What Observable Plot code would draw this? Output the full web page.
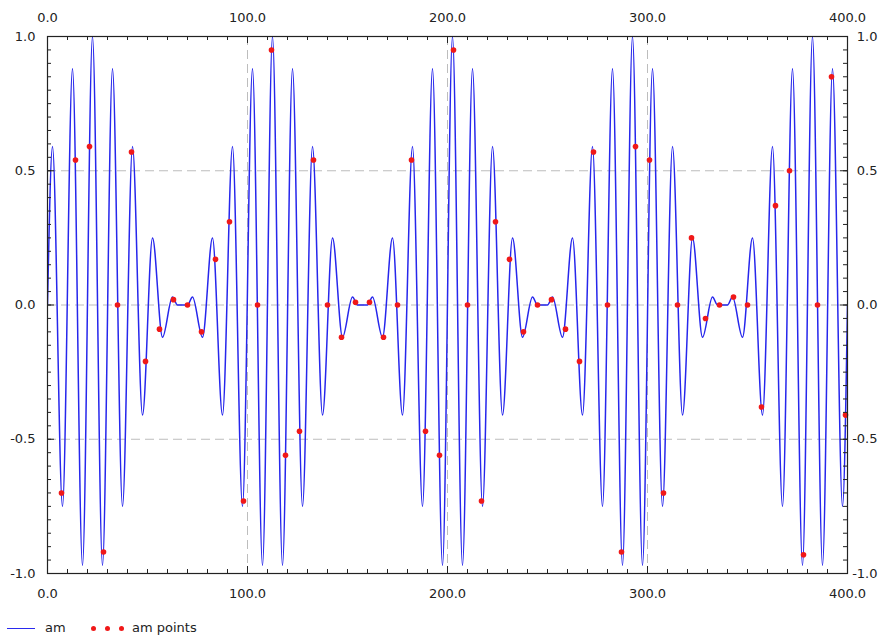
<!DOCTYPE html>
<html>
<head>
<meta charset="utf-8">
<script src="https://cdn.jsdelivr.net/npm/d3@7"></script>
<script src="https://cdn.jsdelivr.net/npm/@observablehq/plot@0.6"></script>
<style>
  html, body { margin: 0; padding: 0; background: #ffffff; }
  body { width: 893px; height: 636px; overflow: hidden; font-family: "DejaVu Sans", sans-serif; }
  #legend { position: relative; width: 893px; height: 22px; font-size: 13px; color: #222; }
  #legend .txt { position: absolute; top: 6px; line-height: 16px; white-space: nowrap; }
  #legend .ln { position: absolute; left: 7px; width: 28px; top: 14px; border-top: 1.4px solid #2a2aee; }
  #legend .dot { position: absolute; width: 5px; height: 5px; border-radius: 50%; background: #f01818; top: 12px; }
</style>
</head>
<body>
<div id="chart"></div>
<div id="legend"></div>
<script>
// ---- data ----
const xTickLabels = [0, 100, 200, 300, 400];
const yTickLabels = [-1, -0.5, 0, 0.5, 1];

// "am" curve: local extrema (and flat null points)
const amX = [
  0, 2.5, 7.5, 12.5, 17.5, 22.5, 27.5, 32.5, 37.5, 42.5, 47.5, 52.5, 57.5, 62.5, 65, 67.5, 70,
  72.5, 77.5, 82.5, 87.5, 92.5, 97.5, 102.5, 107.5, 112.5, 117.5, 122.5, 127.5, 132.5, 137.5,
  142.5, 147.5, 152.5, 155, 157.5, 160, 162.5, 167.5, 172.5, 177.5, 182.5, 187.5, 192.5, 197.5,
  202.5, 207.5, 212.5, 217.5, 222.5, 227.5, 232.5, 237.5, 242.5, 245, 247.5, 250, 252.5, 257.5,
  262.5, 267.5, 272.5, 277.5, 282.5, 287.5, 292.5, 297.5, 302.5, 307.5, 312.5, 317.5, 322.5,
  327.5, 332.5, 335, 337.5, 340, 342.5, 347.5, 352.5, 357.5, 362.5, 367.5, 372.5, 377.5, 382.5,
  387.5, 392.5, 397.5, 400
];
const amY = [
  0, 0.59, -0.75, 0.88, -0.97, 1.00, -0.97, 0.88, -0.75, 0.59, -0.41, 0.25, -0.12, 0.03, 0, 0, 0,
  0.03, -0.12, 0.25, -0.41, 0.59, -0.75, 0.88, -0.97, 1.00, -0.97, 0.88, -0.75, 0.59, -0.41,
  0.25, -0.12, 0.03, 0, 0, 0, 0.03, -0.12, 0.25, -0.41, 0.59, -0.75, 0.88, -0.97,
  1.00, -0.97, 0.88, -0.75, 0.59, -0.41, 0.25, -0.12, 0.03, 0, 0, 0, 0.03, -0.12,
  0.25, -0.41, 0.59, -0.75, 0.88, -0.97, 1.00, -0.97, 0.88, -0.75, 0.59, -0.41, 0.25,
  -0.12, 0.03, 0, 0, 0, 0.03, -0.12, 0.25, -0.41, 0.59, -0.75, 0.88, -0.97, 1.00,
  -0.97, 0.88, -0.75, 0
];

// "am points" samples
const ptX = [
  7, 14, 21, 28, 35, 42, 49, 56, 63, 70, 77, 84, 91, 98, 105, 112, 119, 126, 133, 140,
  147, 154, 161, 168, 175, 182, 189, 196, 203, 210, 217, 224, 231, 238, 245, 252, 259, 266,
  273, 280, 287, 294, 301, 308, 315, 322, 329, 336, 343, 350, 357, 364, 371, 378, 385, 392, 399
];
const ptY = [
  -0.70, 0.54, 0.59, -0.92, 0.00, 0.57, -0.21, -0.09, 0.02, 0.00, -0.10, 0.17, 0.31, -0.73,
  0.00, 0.95, -0.56, -0.47, 0.54, 0.00, -0.12, 0.01, 0.01, -0.12, 0.00, 0.54, -0.47, -0.56,
  0.95, 0.00, -0.73, 0.31, 0.17, -0.10, 0.00, 0.02, -0.09, -0.21, 0.57, 0.00, -0.92, 0.59,
  0.54, -0.70, 0.00, 0.25, -0.05, 0.00, 0.03, 0.00, -0.38, 0.37, 0.50, -0.93, 0.00, 0.85, -0.41
];

// ---- build ----
const curve = amX.map((x, i) => ({x, y: amY[i]}));
const points = ptX.map((x, i) => ({x, y: ptY[i]}));
const xMinor = d3.range(0, 401, 10);
const yMinor = d3.range(-20, 21).map(i => i * 0.05);

const W = 893, H = 614;
const mL = 47, mR = 46, mT = 36, mB = 41;
const pw = W - mL - mR, ph = H - mT - mB;
const ink = "#222";
const fmt = d => d.toFixed(1);

const chart = Plot.plot({
  width: W, height: H,
  marginLeft: mL, marginRight: mR, marginTop: mT, marginBottom: mB,
  style: {fontFamily: "DejaVu Sans, sans-serif", fontSize: "13px", color: ink, background: "#fff"},
  x: {domain: [0, 400], axis: null},
  y: {domain: [-1, 1], axis: null},
  marks: [
    Plot.ruleX([100, 200, 300], {x: d => d, stroke: "#bdbdbd", strokeWidth: 1, strokeDasharray: "9,5"}),
    Plot.ruleY([-0.5, 0, 0.5], {y: d => d, stroke: "#bdbdbd", strokeWidth: 1, strokeDasharray: "9,5"}),
    Plot.line(curve, {x: "x", y: "y", curve: "monotone-x", stroke: "#2626ec", strokeWidth: 1.5, clip: true}),
    Plot.dot(points, {x: "x", y: "y", r: 2.8, fill: "#f01818", stroke: "none"}),
    // ticks inward on all four sides
    Plot.tickX(xTickLabels, {x: d => d, insetBottom: ph - 7, stroke: ink}),
    Plot.tickX(xTickLabels, {x: d => d, insetTop: ph - 7, stroke: ink}),
    Plot.tickX(xMinor, {x: d => d, insetBottom: ph - 4, stroke: ink}),
    Plot.tickX(xMinor, {x: d => d, insetTop: ph - 4, stroke: ink}),
    Plot.tickY(yTickLabels, {y: d => d, insetRight: pw - 7, stroke: ink}),
    Plot.tickY(yTickLabels, {y: d => d, insetLeft: pw - 7, stroke: ink}),
    Plot.tickY(yMinor, {y: d => d, insetRight: pw - 4, stroke: ink}),
    Plot.tickY(yMinor, {y: d => d, insetLeft: pw - 4, stroke: ink}),
    Plot.frame({stroke: ink, strokeWidth: 1.2}),
    Plot.axisX(xTickLabels, {anchor: "top", label: null, tickSize: 0, tickPadding: 15, tickFormat: fmt, fill: ink}),
    Plot.axisX(xTickLabels, {anchor: "bottom", label: null, tickSize: 0, tickPadding: 15, tickFormat: fmt, fill: ink}),
    Plot.axisY(yTickLabels, {anchor: "left", label: null, tickSize: 0, tickPadding: 12, tickFormat: fmt, fill: ink}),
    Plot.axisY(yTickLabels, {anchor: "right", label: null, tickSize: 0, tickPadding: 30, textAnchor: "end", tickFormat: fmt, fill: ink})
  ]
});
document.getElementById("chart").appendChild(chart);

// legend below the plot
const lg = document.getElementById("legend");
lg.innerHTML =
  '<div class="ln"></div>' +
  '<div class="txt" style="left:45px">am</div>' +
  '<div class="dot" style="left:91px"></div>' +
  '<div class="dot" style="left:105px"></div>' +
  '<div class="dot" style="left:119px"></div>' +
  '<div class="txt" style="left:132px">am points</div>';
</script>
</body>
</html>
